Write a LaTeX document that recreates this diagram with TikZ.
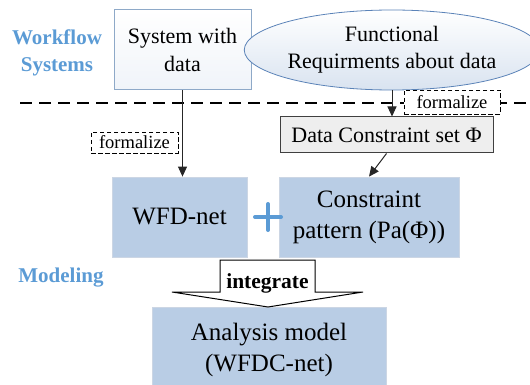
\documentclass[tikz,border=0pt]{standalone}
\usepackage{fontspec}
\setmainfont{Liberation Serif}
\usetikzlibrary{shapes.geometric,arrows.meta}
\definecolor{boxblue}{HTML}{B9CDE5}
\definecolor{lblblue}{HTML}{5B9BD5}
\definecolor{sysborder}{HTML}{8EA9C8}
\definecolor{ellborder}{HTML}{5B83B8}
\definecolor{ellfill}{HTML}{D9E3F0}
\definecolor{grayfill}{HTML}{EEEEEE}
\definecolor{grayborder}{HTML}{404040}
\definecolor{blueedge}{HTML}{CCD6E4}
\begin{document}
\begin{tikzpicture}[x=1pt,y=-1pt,
  bluebox/.style={draw=blueedge,line width=0.8pt,fill=boxblue,inner sep=0pt,align=center,
     font=\fontsize{25}{31}\selectfont},
  fbox/.style={draw=black,dash pattern=on 4.5pt off 2.5pt,line width=0.9pt,fill=white,
     inner sep=0pt,font=\fontsize{18.5}{20}\selectfont},
  lbl/.style={text=lblblue,align=center,font=\fontsize{21}{27}\selectfont\bfseries},
  arr/.style={line width=1pt,draw=black!85,-{Triangle[length=10pt,width=9pt]}},
]
\useasboundingbox (0,0) rectangle (530,385);

% dashed separator
\coordinate (dl) at (20,103);
\coordinate (dr) at (530,103);
\draw[line width=1.2pt,dash pattern=on 12pt off 7pt] (dl) -- (dr);

% labels
\node[lbl] (ws) at (57,53) {Workflow\\Systems};
\node[lbl] (mod) at (61,278) {Modeling};

% top row
\node[draw=sysborder,line width=1pt,top color=white,bottom color=ellfill!40,
  minimum width=137pt,minimum height=80pt,inner sep=0pt,align=center,
  font=\fontsize{22}{28}\selectfont] (sys) at (182.5,50) {System with\\data};
\node[ellipse,draw=ellborder,line width=0.8pt,top color=white,bottom color=ellfill,
  minimum width=260pt,minimum height=80pt,inner sep=0pt,align=center,
  font=\fontsize{22}{27}\selectfont] (ell) at (392,50) {Functional\\Requirments about data};

\node[draw=grayborder,line width=1pt,fill=grayfill,minimum width=213pt,minimum height=36pt,
  inner sep=0pt,font=\fontsize{22}{24}\selectfont] (data) at (386.5,135) {Data Constraint set Φ};

% middle row
\node[bluebox,minimum width=135pt,minimum height=80pt] (wfd) at (179.5,217) {WFD-net};
\node[bluebox,minimum width=180pt,minimum height=80pt] (cons) at (369,217) {Constraint\\pattern (Pa(Φ))};

% plus sign
\coordinate (pc) at (268,217);
\draw[lblblue,line width=4pt,line cap=round] ([xshift=-13pt]pc) -- ([xshift=13pt]pc);
\draw[lblblue,line width=4pt,line cap=round] ([yshift=-13pt]pc) -- ([yshift=13pt]pc);

% bottom
\node[bluebox,minimum width=234pt,minimum height=85pt] (ana) at (269,349.5) {Analysis model\\(WFDC-net)};

% integrate block arrow
\draw[line width=1pt,fill=white] (220,260) -- (315,260) -- (315,292) -- (363,292)
  -- (268,307) -- (172,292) -- (220,292) -- cycle;
\node[font=\fontsize{21.5}{22}\selectfont\bfseries] (int) at (267.5,283) {integrate};

% connectors
\draw[arr] (sys.south) -- (sys.south |- wfd.north);
\draw[arr] (ell.south) -- (ell.south |- data.north);
\draw[arr] (data.south) -- (cons.north);

% formalize labels
\node[fbox,minimum width=87pt,minimum height=21pt] (f1) at (134.5,142.5) {formalize};
\node[fbox,minimum width=96pt,minimum height=24pt] (f2) at (452,102) {formalize};
\end{tikzpicture}
\end{document}
